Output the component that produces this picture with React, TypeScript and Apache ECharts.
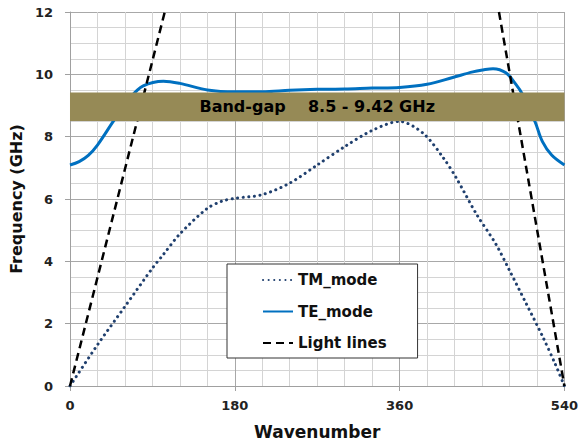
import React, { useEffect, useRef } from "react";
import * as echarts from "echarts";

const xTicks = [0, 180, 360, 540];
const yTicks = [0, 2, 4, 6, 8, 10, 12];

const teX = [0, 10, 20, 30, 48, 66, 80, 102, 120, 150, 180, 210, 240, 270, 300, 330, 360, 390, 418, 440, 451, 462, 476, 487, 494, 508, 516, 526, 540];
const teY = [7.09, 7.2, 7.4, 7.73, 8.52, 9.26, 9.63, 9.78, 9.71, 9.5, 9.44, 9.44, 9.49, 9.52, 9.53, 9.56, 9.58, 9.68, 9.9, 10.08, 10.14, 10.18, 10.05, 9.68, 9.37, 8.47, 7.84, 7.41, 7.09];

const tmX = [0, 30, 60, 90, 102, 120, 150, 166, 180, 210, 240, 270, 300, 330, 360, 386, 408, 422, 444, 465, 480, 498, 516, 530, 540];
const tmY = [0, 1.32, 2.55, 3.78, 4.22, 4.88, 5.7, 5.93, 6.02, 6.14, 6.51, 7.09, 7.68, 8.2, 8.49, 8.1, 7.31, 6.67, 5.51, 4.56, 3.71, 2.66, 1.6, 0.7, 0];

const lightLeftX = [0, 103.5];
const lightLeftY = [0, 12];
const lightRightX = [468.5, 540];
const lightRightY = [12, 0];

const bandLow = 8.5;
const bandHigh = 9.42;
const bandLabel = "Band-gap    8.5 - 9.42 GHz";

const seriesNames = ["TM_mode", "TE_mode", "Light lines"];

const zip = (xs: number[], ys: number[]) => xs.map((x, i) => [x, ys[i]]);

const FONT = "DejaVu Sans";

export default function App() {
  const ref = useRef<HTMLDivElement>(null);
  useEffect(() => {
    if (!ref.current) return;
    const chart = echarts.init(ref.current, undefined, { renderer: "svg" });
    const labelStyle = { fontFamily: FONT, fontWeight: "bold" as const, fontSize: 13, color: "#222" };
    chart.setOption({
      animation: false,
      backgroundColor: "#fff",
      grid: { left: 65.7, right: 15, top: 12, bottom: 54.5, containLabel: false },
      legend: {
        data: seriesNames,
        orient: "vertical",
        left: 227,
        top: 264,
        padding: [8, 31, 7, 35],
        itemWidth: 30,
        itemHeight: 14,
        itemGap: 15.5,
        backgroundColor: "#fff",
        borderColor: "#333",
        borderWidth: 1,
        itemStyle: { opacity: 0 },
        textStyle: { fontFamily: FONT, fontWeight: "bold", fontSize: 15, color: "#111", lineHeight: 16 },
      },
      xAxis: {
        type: "value",
        min: 0,
        max: 540,
        interval: 180,
        name: "Wavenumber",
        nameLocation: "middle",
        nameGap: 37,
        nameTextStyle: { fontFamily: FONT, fontWeight: "bold", fontSize: 17, color: "#111" },
        axisLine: { show: true, lineStyle: { color: "#A0A0A0", width: 1 } },
        axisTick: { show: true, length: 5, lineStyle: { color: "#A0A0A0" } },
        axisLabel: { ...labelStyle, margin: 13 },
        splitLine: { show: true, lineStyle: { color: "#A8A8A8", width: 1 } },
        minorTick: { show: false, splitNumber: 6 },
        minorSplitLine: { show: true, lineStyle: { color: "#D4D4D4", width: 1 } },
      },
      yAxis: {
        type: "value",
        min: 0,
        max: 12,
        interval: 2,
        name: "Frequency (GHz)",
        nameLocation: "middle",
        nameGap: 40,
        nameTextStyle: { fontFamily: FONT, fontWeight: "bold", fontSize: 16, color: "#111" },
        axisLine: { show: true, lineStyle: { color: "#A0A0A0", width: 1 } },
        axisTick: { show: true, length: 5, lineStyle: { color: "#A0A0A0" } },
        axisLabel: { ...labelStyle, margin: 17, formatter: (v: number) => (yTicks.includes(v) ? String(v) : "") },
        splitLine: { show: true, lineStyle: { color: "#A8A8A8", width: 1 } },
        minorTick: { show: false, splitNumber: 4 },
        minorSplitLine: { show: true, lineStyle: { color: "#D4D4D4", width: 1 } },
      },
      series: [
        {
          name: seriesNames[0],
          type: "line",
          data: zip(tmX, tmY),
          smooth: 0.3,
          symbol: "none",
          lineStyle: { color: "#1F3F6E", width: 3, type: [0.1, 5.5], cap: "round" },
          itemStyle: { color: "#1F3F6E" },
          z: 3,
        },
        {
          name: seriesNames[1],
          type: "line",
          data: zip(teX, teY),
          smooth: 0.35,
          symbol: "none",
          lineStyle: { color: "#0070C0", width: 3 },
          itemStyle: { color: "#0070C0" },
          z: 3,
        },
        {
          name: seriesNames[2],
          type: "line",
          data: zip(lightLeftX, lightLeftY),
          symbol: "none",
          lineStyle: { color: "#000", width: 2.5, type: [8, 5] },
          itemStyle: { color: "#000" },
          z: 3,
        },
        {
          name: seriesNames[2],
          type: "line",
          data: zip(lightRightX, lightRightY),
          symbol: "none",
          lineStyle: { color: "#000", width: 2.5, type: [8, 5] },
          itemStyle: { color: "#000" },
          z: 3,
        },
        {
          name: "band",
          type: "line",
          data: [],
          symbol: "none",
          z: 6,
          markArea: {
            silent: true,
            z: 6,
            itemStyle: { color: "#968A56", opacity: 1 },
            label: {
              show: true,
              position: "inside",
              fontFamily: FONT,
              fontWeight: "bold",
              fontSize: 16,
              color: "#000",
              formatter: bandLabel,
            },
            data: [[{ xAxis: xTicks[0], yAxis: bandLow }, { xAxis: xTicks[xTicks.length - 1], yAxis: bandHigh }]],
          },
        },
      ],
    });
    return () => chart.dispose();
  }, []);
  return <div ref={ref} style={{ position: "fixed", left: 0, top: 0, width: 581, height: 445 }} />;
}
